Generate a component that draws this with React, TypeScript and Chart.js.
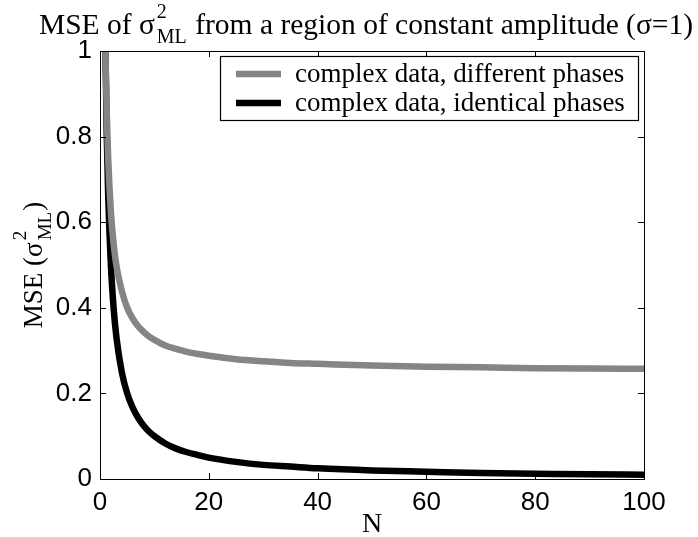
import React, { useEffect, useRef } from "react";
import { Chart, registerables } from "chart.js";

Chart.register(...registerables);

// ---- data ----
const N_VALUES = [1, 1.25, 1.5, 2, 2.5, 3, 4, 5, 6, 7, 8, 9, 10, 12, 14, 16, 18, 20, 25, 30, 35, 40, 50, 60, 70, 80, 90, 100];
const MSE_DIFFERENT = [1.0, 0.85, 0.75, 0.625, 0.55, 0.5, 0.44, 0.4, 0.375, 0.357, 0.344, 0.333, 0.325, 0.312, 0.304, 0.297, 0.292, 0.288, 0.28, 0.275, 0.271, 0.269, 0.265, 0.2625, 0.261, 0.259, 0.258, 0.2575];
const MSE_IDENTICAL = [1.0, 0.8, 0.667, 0.5, 0.4, 0.333, 0.25, 0.2, 0.167, 0.143, 0.125, 0.111, 0.1, 0.083, 0.071, 0.0625, 0.056, 0.05, 0.04, 0.033, 0.029, 0.025, 0.02, 0.017, 0.014, 0.0125, 0.011, 0.01];
const X_TICKS = [0, 20, 40, 60, 80, 100];
const Y_TICKS = [0, 0.2, 0.4, 0.6, 0.8, 1];
const SERIES_LABELS = ["complex data, different phases", "complex data, identical phases"];
const SERIES_COLORS = ["#858585", "#000000"];

const SERIF = "'Liberation Serif', 'Times New Roman', serif";
const SANS = "'Liberation Sans', Arial, sans-serif";

type Seg = { t: string } | { sup: string; sub: string };

function segWidth(ctx: CanvasRenderingContext2D, segs: Seg[], main: number, small: number) {
  let w = 0;
  for (const s of segs) {
    if ("t" in s) {
      ctx.font = `${main}px ${SERIF}`;
      w += ctx.measureText(s.t).width;
    } else {
      ctx.font = `${small}px ${SERIF}`;
      w += Math.max(ctx.measureText(s.sup).width, ctx.measureText(s.sub).width) + 3;
    }
  }
  return w;
}

function drawRich(ctx: CanvasRenderingContext2D, segs: Seg[], cx: number, by: number, main: number, small: number, supOff: number, subOff: number) {
  const w = segWidth(ctx, segs, main, small);
  let x = cx - w / 2;
  ctx.textAlign = "left";
  ctx.textBaseline = "alphabetic";
  ctx.fillStyle = "#000";
  for (const s of segs) {
    if ("t" in s) {
      ctx.font = `${main}px ${SERIF}`;
      ctx.fillText(s.t, x, by);
      x += ctx.measureText(s.t).width;
    } else {
      ctx.font = `${small}px ${SERIF}`;
      ctx.fillText(s.sup, x + 2, by - supOff);
      ctx.fillText(s.sub, x + 2, by + subOff);
      x += Math.max(ctx.measureText(s.sup).width, ctx.measureText(s.sub).width) + 3;
    }
  }
}

const decorPlugin = {
  id: "decor",
  afterDraw(chart: any) {
    const ctx: CanvasRenderingContext2D = chart.ctx;
    const { left, right, top, bottom } = chart.chartArea;
    const xs = chart.scales.x;
    const ys = chart.scales.y;
    ctx.save();
    // frame
    ctx.strokeStyle = "#000";
    ctx.lineWidth = 1;
    ctx.strokeRect(Math.round(left) + 0.5, Math.round(top) + 0.5, Math.round(right - left), Math.round(bottom - top));
    // inward ticks
    ctx.beginPath();
    for (const v of X_TICKS) {
      const px = Math.round(xs.getPixelForValue(v)) + 0.5;
      ctx.moveTo(px, bottom);
      ctx.lineTo(px, bottom - 6);
      ctx.moveTo(px, top);
      ctx.lineTo(px, top + 6);
    }
    for (const v of Y_TICKS) {
      const py = Math.round(ys.getPixelForValue(v)) + 0.5;
      ctx.moveTo(left, py);
      ctx.lineTo(left + 6, py);
      ctx.moveTo(right, py);
      ctx.lineTo(right - 6, py);
    }
    ctx.stroke();

    // legend
    const lx = 220.5, ly = 56.5, lw = 418, lh = 64;
    ctx.fillStyle = "#fff";
    ctx.fillRect(lx, ly, lw, lh);
    ctx.strokeStyle = "#000";
    ctx.lineWidth = 1.2;
    ctx.strokeRect(lx, ly, lw, lh);
    const rows = [74, 103];
    chart.data.datasets.forEach((ds: any, i: number) => {
      ctx.strokeStyle = ds.borderColor;
      ctx.lineWidth = 6.5;
      ctx.beginPath();
      ctx.moveTo(236, rows[i]);
      ctx.lineTo(281, rows[i]);
      ctx.stroke();
      ctx.fillStyle = "#000";
      ctx.font = `27px ${SERIF}`;
      ctx.textAlign = "left";
      ctx.textBaseline = "middle";
      ctx.fillText(ds.label, 295, rows[i] + 1);
    });

    // title
    drawRich(ctx, [{ t: "MSE of σ" }, { sup: "2", sub: "ML" }, { t: " from a region of constant amplitude (σ=1)" }], 366, 34, 29.5, 20, 16, 9);

    // x label
    ctx.font = `28px ${SERIF}`;
    ctx.textAlign = "center";
    ctx.textBaseline = "alphabetic";
    ctx.fillStyle = "#000";
    ctx.fillText("N", (left + right) / 2, 532);

    // y label
    ctx.save();
    ctx.translate(42, (top + bottom) / 2);
    ctx.rotate(-Math.PI / 2);
    drawRich(ctx, [{ t: "MSE (σ" }, { sup: "2", sub: "ML" }, { t: ")" }], 0, 0, 27, 19, 16, 9);
    ctx.restore();

    ctx.restore();
  },
};

export default function App() {
  const ref = useRef<HTMLCanvasElement | null>(null);
  useEffect(() => {
    document.body.style.margin = "0";
    const canvas = ref.current!;
    const chart = new Chart(canvas, {
      type: "line",
      data: {
        labels: N_VALUES,
        datasets: [
          {
            label: SERIES_LABELS[0],
            data: N_VALUES.map((n, i) => ({ x: n, y: MSE_DIFFERENT[i] })),
            borderColor: SERIES_COLORS[0],
            borderWidth: 6.5,
            pointRadius: 0,
            cubicInterpolationMode: "monotone",
            clip: 0,
            fill: false,
          },
          {
            label: SERIES_LABELS[1],
            data: N_VALUES.map((n, i) => ({ x: n, y: MSE_IDENTICAL[i] })),
            borderColor: SERIES_COLORS[1],
            borderWidth: 6.5,
            pointRadius: 0,
            cubicInterpolationMode: "monotone",
            clip: 0,
            fill: false,
          },
        ],
      },
      options: {
        responsive: false,
        animation: false,
        layout: { padding: { top: 51, right: 54, bottom: 0, left: 0 } },
        plugins: { legend: { display: false }, title: { display: false }, tooltip: { enabled: false } },
        scales: {
          x: {
            type: "linear",
            min: 0,
            max: 100,
            afterBuildTicks: (s: any) => { s.ticks = X_TICKS.map((v) => ({ value: v })); },
            afterFit: (s: any) => { s.height = 58; },
            grid: { display: false, drawTicks: false },
            border: { display: false },
            ticks: { color: "#000", font: { family: SANS, size: 26 }, padding: 8, maxRotation: 0, autoSkip: false, callback: (v: any) => String(v) },
          },
          y: {
            type: "linear",
            min: 0,
            max: 1,
            afterBuildTicks: (s: any) => { s.ticks = Y_TICKS.map((v) => ({ value: v })); },
            afterFit: (s: any) => { s.width = 100; },
            grid: { display: false, drawTicks: false },
            border: { display: false },
            ticks: { color: "#000", font: { family: SANS, size: 26 }, padding: 8, autoSkip: false, callback: (v: any) => String(v) },
          },
        },
      },
      plugins: [decorPlugin],
    } as any);
    return () => chart.destroy();
  }, []);
  return <canvas ref={ref} width={698} height={537} style={{ display: "block" }} />;
}
